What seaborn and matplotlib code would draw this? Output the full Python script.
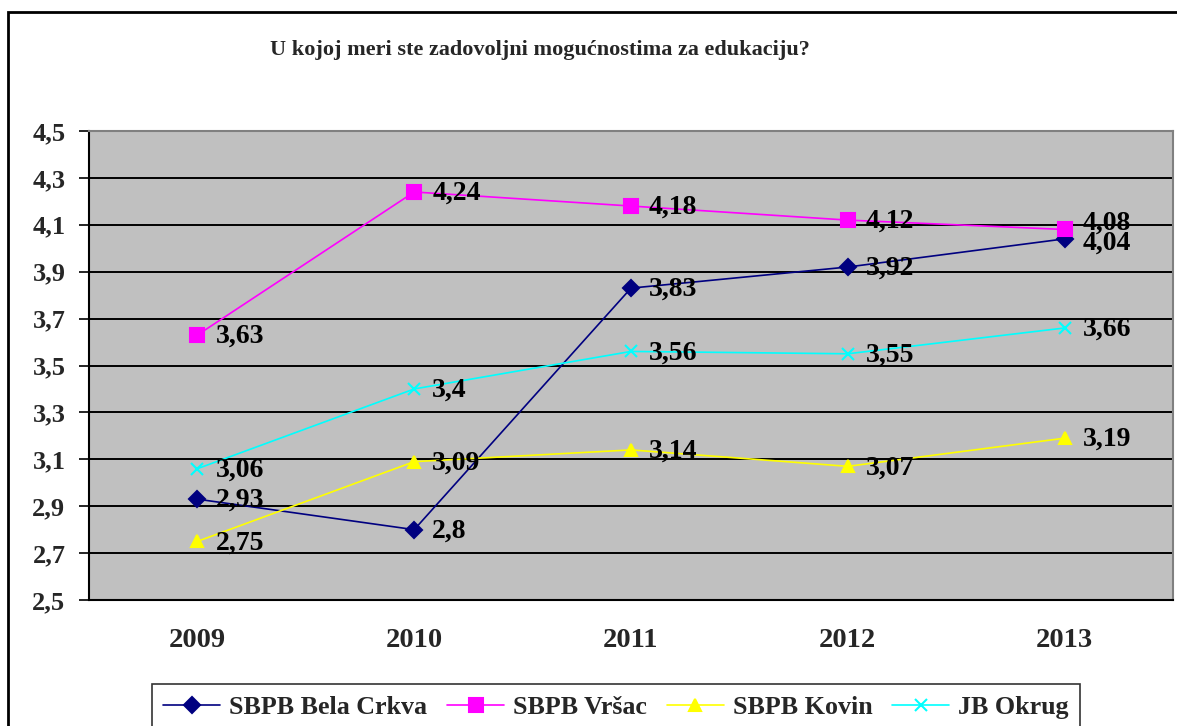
import matplotlib
matplotlib.use("Agg")
import matplotlib.pyplot as plt
import numpy as np
import pandas as pd
import seaborn as sns
from matplotlib.patches import Rectangle

# ── data ──────────────────────────────────────
years = ["2009", "2010", "2011", "2012", "2013"]
bela_crkva = [2.93, 2.80, 3.83, 3.92, 4.04]
vrsac = [3.63, 4.24, 4.18, 4.12, 4.08]
kovin = [2.75, 3.09, 3.14, 3.07, 3.19]
jb_okrug = [3.06, 3.40, 3.56, 3.55, 3.66]
series_names = ["SBPB Bela Crkva", "SBPB Vršac", "SBPB Kovin", "JB Okrug"]
title = "U kojoj meri ste zadovoljni mogućnostima za edukaciju?"

series = dict(zip(series_names, [bela_crkva, vrsac, kovin, jb_okrug]))
rows = []
for name, vals in series.items():
    for i, v in enumerate(vals):
        rows.append({"idx": i, "value": v, "series": name})
df = pd.DataFrame(rows)

colors = {"SBPB Bela Crkva": "#000080", "SBPB Vršac": "#FF00FF",
          "SBPB Kovin": "#FFFF00", "JB Okrug": "#00FFFF"}
markers = {"SBPB Bela Crkva": "D", "SBPB Vršac": "s",
           "SBPB Kovin": "^", "JB Okrug": "x"}
msize = {"SBPB Bela Crkva": 8, "SBPB Vršac": 9.5, "SBPB Kovin": 9, "JB Okrug": 9}

# ── style ─────────────────────────────────────
sns.set_theme(style="white")
plt.rcParams["font.family"] = ["Liberation Serif", "DejaVu Serif"]
plt.rcParams["font.weight"] = "bold"

fig = plt.figure(figsize=(11.77, 7.26), dpi=100)
ax = fig.add_axes([89 / 1177, 1 - 600 / 726, (1173 - 89) / 1177, (600 - 131) / 726])
ax.set_facecolor("#C0C0C0")

for name in series_names:
    sub = df[df["series"] == name]
    sns.lineplot(data=sub, x="idx", y="value", ax=ax, color=colors[name],
                 marker=markers[name], markersize=msize[name],
                 markeredgecolor=colors[name], markeredgewidth=1.5,
                 lw=1.2, label=name, legend=False)

# data labels (nudge the two overlapping 2013 labels)
nudge = {("SBPB Vršac", 4): 4.5, ("SBPB Bela Crkva", 4): -3}
for name, vals in series.items():
    for i, v in enumerate(vals):
        lab = f"{v:g}".replace(".", ",")
        ax.annotate(lab, (i, v), xytext=(13, nudge.get((name, i), -1)),
                    textcoords="offset points", ha="left", va="center",
                    fontsize=20, fontweight="bold", color="black")

ax.set_xlim(-0.5, 4.5)
ax.set_ylim(2.5, 4.5)
yt = np.arange(2.5, 4.51, 0.2)
ax.set_yticks(yt)
ax.set_yticklabels([f"{t:.1f}".replace(".", ",") for t in yt],
                   fontsize=19, fontweight="bold")
ax.set_xticks(range(len(years)))
ax.set_xticklabels(years, fontsize=20.5, fontweight="bold")
ax.set_xticks(np.arange(-0.5, 4.51, 1.0), minor=True)
ax.tick_params(axis="x", which="major", length=0, pad=20)
ax.tick_params(axis="x", which="minor", length=7, width=1.2, color="black",
               direction="out")
ax.tick_params(axis="y", length=7, width=1.2, color="black", direction="out",
               pad=10, left=True)
ax.set_xlabel("")
ax.set_ylabel("")

ax.grid(axis="y", color="black", lw=1.4)
ax.set_axisbelow(True)
for side in ["left", "bottom"]:
    ax.spines[side].set_color("black")
    ax.spines[side].set_linewidth(1.5)
for side in ["top", "right"]:
    ax.spines[side].set_color("#808080")
    ax.spines[side].set_linewidth(1.5)

fig.text(540 / 1177, 1 - 50 / 726, title, ha="center", va="center",
         fontsize=16, fontweight="bold")

# outer chart border
fig.patches.append(Rectangle((8 / 1177, -0.05), 1.1, 1 - 12 / 726 + 0.05,
                             transform=fig.transFigure, fill=False,
                             edgecolor="black", lw=2))

handles, labels = ax.get_legend_handles_labels()
leg = fig.legend(handles, labels, loc="upper center", ncol=4,
                 bbox_to_anchor=(616 / 1177, 1 - 671 / 726),
                 frameon=True, fancybox=False, edgecolor="black",
                 prop={"size": 18.7, "weight": "bold"},
                 handlelength=2.2, columnspacing=0.75, handletextpad=0.35,
                 borderpad=0.45)
leg.get_frame().set_linewidth(1.2)

fig.savefig("out.png", dpi=100)
